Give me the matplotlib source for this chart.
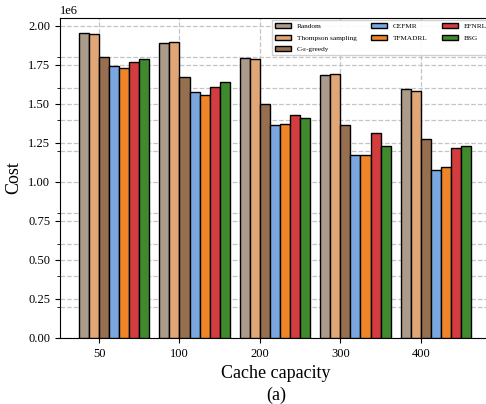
import numpy as np
import matplotlib
matplotlib.use('Agg')
import matplotlib.pyplot as plt
from matplotlib.ticker import MultipleLocator

plt.rcParams['font.family'] = ['Liberation Serif', 'DejaVu Serif']
plt.rcParams['mathtext.fontset'] = 'stix'

capacities = ['50', '100', '200', '300', '400']
methods = ['Random', 'Thompson sampling', 'C-ε-greedy', 'CEFMR', 'TFMADRL', 'EFNRL', 'BSG']
colors = ['#ab9b8b', '#e0a676', '#966f50', '#7ba7e0', '#ef8428', '#d33d40', '#3f8a2d']

random_cost = [1.953e6, 1.891e6, 1.793e6, 1.688e6, 1.598e6]
thompson_cost = [1.947e6, 1.895e6, 1.786e6, 1.694e6, 1.583e6]
greedy_cost = [1.799e6, 1.673e6, 1.498e6, 1.363e6, 1.273e6]
cefmr_cost = [1.742e6, 1.579e6, 1.363e6, 1.175e6, 1.077e6]
tfmadrl_cost = [1.733e6, 1.560e6, 1.372e6, 1.171e6, 1.094e6]
efnrl_cost = [1.771e6, 1.607e6, 1.429e6, 1.314e6, 1.218e6]
bsg_cost = [1.786e6, 1.641e6, 1.412e6, 1.229e6, 1.229e6]

all_costs = [random_cost, thompson_cost, greedy_cost, cefmr_cost,
             tfmadrl_cost, efnrl_cost, bsg_cost]

fig = plt.figure(figsize=(4.86, 4.04), dpi=100)
ax = fig.add_axes([60 / 486, 66 / 404, 432 / 486, 320 / 404])

x = np.arange(len(capacities))
width = 0.125
for i, (name, vals, c) in enumerate(zip(methods, all_costs, colors)):
    ax.bar(x + (i - 1.5) * width, vals, width, label=name, color=c,
           edgecolor='black', linewidth=1.0, zorder=3)

ax.set_xticks(x)
ax.set_xticklabels(capacities, fontsize=9)
ax.set_xlim(-0.485, 4.885)
ax.set_ylim(0, 2.051e6)
ax.yaxis.set_major_locator(MultipleLocator(0.25e6))
ax.yaxis.set_minor_locator(MultipleLocator(0.2e6))
ax.tick_params(axis='y', labelsize=9)
ax.yaxis.get_offset_text().set_fontsize(9)

ax.grid(True, which='both', linestyle='--', color='#c4c4c4', linewidth=0.9, zorder=0)
ax.set_axisbelow(True)

ax.set_ylabel('Cost', fontsize=13)
ax.set_xlabel('Cache capacity\n(a)', fontsize=13, linespacing=1.3)

ax.legend(ncol=3, loc='upper right', fontsize=5.2, frameon=True,
          framealpha=0.9, edgecolor='#cccccc', fancybox=False,
          handlelength=2.2, handleheight=0.7, columnspacing=2.0,
          labelspacing=0.75, borderaxespad=0.3)

fig.savefig('out.png', dpi=100)
